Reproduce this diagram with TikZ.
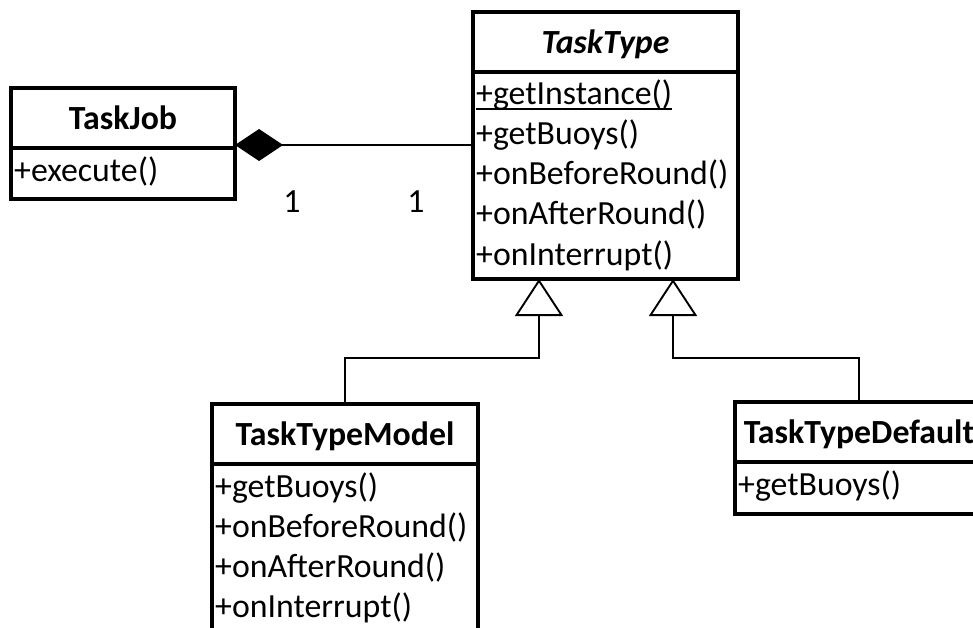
\documentclass[tikz,border=0pt]{standalone}
\usepackage{fontspec}
\setmainfont{Carlito}
\usetikzlibrary{arrows.meta,calc}
\begin{document}
\begin{tikzpicture}[x=1pt,y=-1pt,
  every node/.style={font=\fontsize{33.8}{40}\selectfont},
  classhead/.style={draw, line width=3.2pt, minimum height=60pt, inner sep=0pt, outer sep=0pt,
    text height=24pt, text depth=1pt, anchor=north west,
    font=\fontsize{33.8}{40}\selectfont\bfseries},
  classbody/.style={draw, line width=3.2pt, inner sep=0pt, outer sep=0pt, anchor=north west},
  member/.style={anchor=base west, inner sep=0pt},
  link/.style={line width=1.9pt},
  composition/.style={link, {Diamond[length=48pt,width=32pt]}-},
  inherit/.style={link, -{Triangle[open,length=37pt,width=48pt]}},
]
\useasboundingbox (0,0) rectangle (973,628);
\fill[white] (0,0) rectangle (973,628);
\clip (0,0) rectangle (973,628);

% TaskJob
\node[classhead, minimum width=224pt] (tjhead) at (11,88) {TaskJob};
\node[classbody, minimum width=224pt, minimum height=51pt] (tjbody) at (tjhead.south west) {};
\node[member] (tj1) at ($(tjbody.north west)+(3,34)$) {+execute()};

% TaskType
\node[classhead, minimum width=265pt] (tthead) at (473,12) {\itshape TaskType};
\node[classbody, minimum width=265pt, minimum height=207pt] (ttbody) at (tthead.south west) {};
\foreach \txt [count=\i] in {+getInstance(),+getBuoys(),+onBeforeRound(),+onAfterRound(),+onInterrupt()}
  \node[member] (tt\i) at ($(ttbody.north west)+(3,{33+40*(\i-1)})$) {\txt};
\draw[line width=1.7pt] ($(tt1.base west)+(0,4)$) -- ($(tt1.base east)+(0,4)$);

% TaskTypeModel
\node[classhead, minimum width=266pt] (mdhead) at (212,404) {TaskTypeModel};
\node[classbody, minimum width=266pt, minimum height=220pt] (mdbody) at (mdhead.south west) {};
\foreach \txt [count=\i] in {+getBuoys(),+onBeforeRound(),+onAfterRound(),+onInterrupt()}
  \node[member] (md\i) at ($(mdbody.north west)+(3,{33+40*(\i-1)})$) {\txt};

% TaskTypeDefault
\node[classhead, minimum width=248pt] (dfhead) at (735,402) {TaskTypeDefault};
\node[classbody, minimum width=248pt, minimum height=52pt] (dfbody) at (dfhead.south west) {};
\node[member] (df1) at ($(dfbody.north west)+(3,33)$) {+getBuoys()};

% composition TaskJob <>-- TaskType
\coordinate (compA) at ($(tjhead.south east)+(0,-3)$);
\draw[composition] (compA) -- (compA -| ttbody.west);
\node[anchor=base] (multA) at (292,213) {1};
\node[anchor=base] (multB) at (416,213) {1};

% generalisations
\coordinate (apexA) at ($(ttbody.south west)+(66,0)$);
\coordinate (apexB) at ($(ttbody.south east)+(-65,0)$);
\draw[inherit] (mdhead.north) |- ($(apexA)+(0,79)$) -- (apexA);
\draw[inherit] (dfhead.north) |- ($(apexB)+(0,79)$) -- (apexB);
\end{tikzpicture}
\end{document}
